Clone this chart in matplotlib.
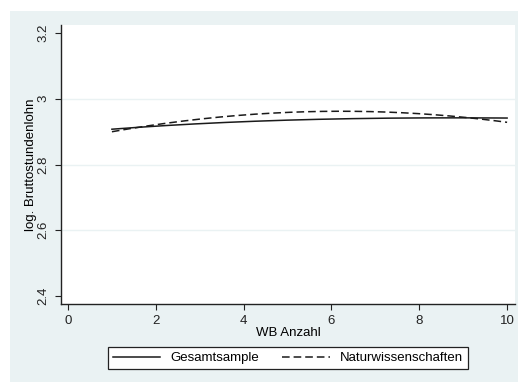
import numpy as np
import matplotlib.pyplot as plt
from matplotlib.patches import Rectangle

plt.rcParams['font.family'] = ['Liberation Sans', 'DejaVu Sans']

# values
wb = [1, 2, 3, 4, 5, 6, 7, 8, 9, 10]
gesamt = [2.907, 2.917, 2.924, 2.930, 2.935, 2.938, 2.940, 2.942, 2.942, 2.941]
natur = [2.900, 2.921, 2.937, 2.950, 2.959, 2.963, 2.961, 2.953, 2.943, 2.929]

xticks = [0, 2, 4, 6, 8, 10]
yticks = [2.4, 2.6, 2.8, 3.0, 3.2]
ytick_labels = ['2.4', '2.6', '2.8', '3', '3.2']

bg = '#EAF2F3'

fig = plt.figure(figsize=(5.18, 3.82), dpi=100)
fig.patch.set_facecolor('white')
fig.patches.append(Rectangle((10 / 518, 0), 1 - 10 / 518, 371 / 382,
                             transform=fig.transFigure, facecolor=bg,
                             edgecolor='none', zorder=-10))

ax = fig.add_axes([61 / 518, 78 / 382, 454 / 518, 279 / 382])
ax.set_facecolor('white')

# smooth the fitted curves a little
xs = np.linspace(1, 10, 200)
g_s = np.polyval(np.polyfit(wb, gesamt, 3), xs)
n_s = np.polyval(np.polyfit(wb, natur, 3), xs)

ax.plot(xs, g_s, color='#1a1a1a', lw=1.1, label='Gesamtsample')
ax.plot(xs, n_s, color='#1a1a1a', lw=1.1, ls=(0, (5, 2.6)), label='Naturwissenschaften')

for y in [2.6, 2.8, 3.0]:
    ax.axhline(y, color=bg, lw=1.0, zorder=0)

ax.set_xlim(-0.16, 10.18)
ax.set_ylim(2.376, 3.224)
ax.set_xticks(xticks)
ax.set_xticklabels([str(t) for t in xticks])
ax.set_yticks(yticks)
ax.set_yticklabels(ytick_labels, rotation=90, va='center')

for s in ['top', 'right']:
    ax.spines[s].set_visible(False)
for s in ['left', 'bottom']:
    ax.spines[s].set_color('#222222')
    ax.spines[s].set_linewidth(1.0)

ax.tick_params(axis='both', direction='out', length=4, width=0.8,
               colors='#222222', labelsize=9.5)
ax.tick_params(axis='x', pad=4)
ax.tick_params(axis='y', pad=4.5)

ax.set_xlabel('WB Anzahl', fontsize=9.5, labelpad=0)
ax.set_ylabel('log. Bruttostundenlohn', fontsize=9.5)
ax.yaxis.set_label_coords(-0.053, 0.5)

leg = fig.legend(loc='center', bbox_to_anchor=(288 / 518, 24 / 382), ncol=2,
                 frameon=True, fancybox=False, fontsize=9.5, framealpha=1,
                 handlelength=3.6, columnspacing=1.7, borderpad=0.35,
                 handletextpad=0.8)
leg.get_frame().set_edgecolor('#222222')
leg.get_frame().set_linewidth(0.9)

fig.savefig('out.png', dpi=100, facecolor=fig.get_facecolor())
